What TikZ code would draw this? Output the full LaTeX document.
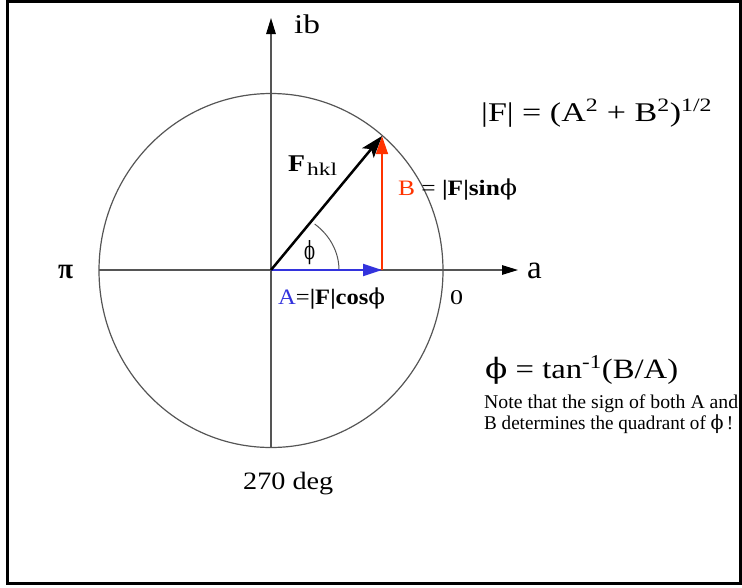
\documentclass[tikz,border=0pt]{standalone}
\usepackage{fontspec}
\setmainfont{Liberation Serif}
\newfontfamily\dvs{DejaVu Serif}
\usepackage{graphicx}
\usetikzlibrary{arrows.meta}
\newcommand{\ph}{{\dvs\mdseries\symbol{"03D5}}}
\newcommand{\fw}[2]{\resizebox{#1}{\height}{#2}}
\definecolor{axisgray}{HTML}{555555}
\definecolor{bred}{HTML}{FF3300}
\definecolor{ablue}{HTML}{3333DD}
\begin{document}
\begin{tikzpicture}[x=1pt,y=-1pt,
  txt/.style={inner sep=0pt, anchor=base west},
  axis/.style={axisgray, line width=1.3pt},
  axhead/.style={-{Triangle[length=16pt,width=9.5pt,color=black]}},
  circ/.style={axisgray, line width=1.2pt},
  vec/.style={black, line width=2.5pt, -{Stealth[length=22pt,width=15pt,inset=5pt]}},
  redvec/.style={bred, line width=1.3pt, -{Triangle[length=18pt,width=12pt]}},
  bluevec/.style={ablue, line width=2pt, -{Triangle[length=19pt,width=12pt]}}]
\useasboundingbox (0,0) rectangle (742,587);
\draw[line width=3pt] (7.5,1.5) rectangle (740,583.5);
% coordinates
\coordinate (O) at (271,270);
\coordinate (top) at (271,18);
\coordinate (bot) at (271,447);
\coordinate (lft) at (99,270);
\coordinate (rgt) at (518,270);
\coordinate (P) at (382,136);
\coordinate (Px) at (382,270);
\coordinate (Cc) at (271,270.5);
\coordinate (arcS) at (339,270);
% axes
\draw[axis, axhead] (bot) -- (top);
\draw[axis, axhead] (lft) -- (rgt);
% circle
\draw[circ] (Cc) ellipse [x radius=172pt, y radius=177pt];
% angle arc
\draw[axisgray, line width=1pt] (arcS) arc[start angle=0, end angle=50, x radius=68pt, y radius=60pt];
% vectors
\draw[bluevec] (O) -- (Px);
\draw[redvec] (Px) -- (P);
\draw[vec] (O) -- (P);
% labels
\node[txt, font=\fontsize{27}{30}\selectfont] (ib) at (294,33) {\fw{26pt}{ib}};
\node[txt, font=\fontsize{33}{36}\selectfont] (alab) at (527,278) {a};
\node[txt, font=\bfseries\fontsize{29}{32}\selectfont] (pi) at (58,278) {\fw{15pt}{π}};
\node[txt, font=\fontsize{21}{24}\selectfont] (zero) at (450,304) {\fw{13pt}{0}};
\node[txt, font=\fontsize{25}{28}\selectfont] (deg) at (243,489) {\fw{90pt}{270 deg}};
\node[txt, font=\bfseries\fontsize{24}{26}\selectfont] (F) at (288,171) {\fw{17pt}{F}};
\node[txt, font=\fontsize{18}{20}\selectfont] (hkl) at (307,175) {\fw{30pt}{hkl}};
\node[txt, font=\fontsize{22}{26}\selectfont] (Blab) at (398,195) {\fw{119pt}{\textcolor{bred}{B} = \textbf{|F|sin}\ph}};
\node[txt, font=\fontsize{22}{24}\selectfont] (Alab) at (278,304) {\fw{107pt}{\textcolor{ablue}{A}=\textbf{|F|cos}\ph}};
\node[txt, font=\fontsize{25}{28}\selectfont] (phi) at (304,259) {\fw{11pt}{\ph}};
\node[txt, font=\fontsize{27}{30}\selectfont] (mod) at (481,121) {\fw{231pt}{|F| = (A\textsuperscript{2} + B\textsuperscript{2})\textsuperscript{1/2}}};
\node[txt, font=\fontsize{28}{30}\selectfont] (tan) at (485,378) {\fw{193pt}{\ph{} = tan\textsuperscript{-1}(B/A)}};
\node[txt, font=\fontsize{19.5}{22}\selectfont] (n1) at (484,408) {\fw{254pt}{Note that the sign of both A and}};
\node[txt, font=\fontsize{19.5}{22}\selectfont] (n2) at (484,429) {\fw{249pt}{B determines the quadrant of \ph\,!}};
\end{tikzpicture}
\end{document}
